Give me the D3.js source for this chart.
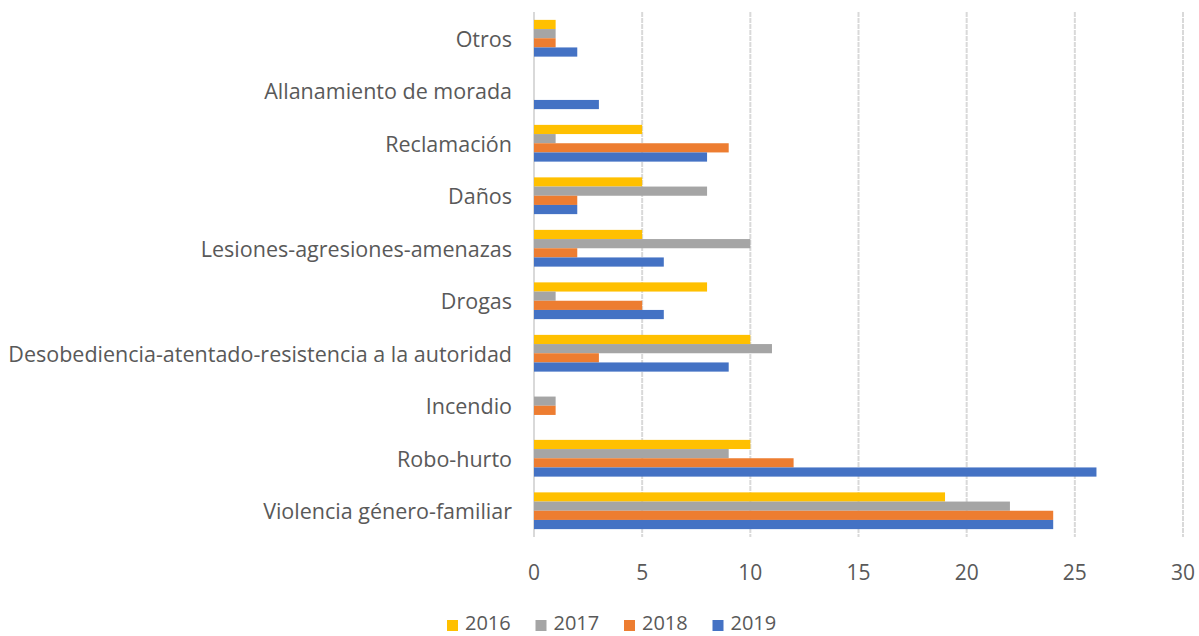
<!DOCTYPE html>
<html>
<head>
<meta charset="utf-8">
<script src="https://cdn.jsdelivr.net/npm/d3@7"></script>
<style>
  body { margin: 0; background: #fff; }
  text { font-family: "Open Sans", Lato, sans-serif; fill: #595959; }
</style>
</head>
<body>
<div id="chart"></div>
<script>
// Chart data
const categories = ["Otros", "Allanamiento de morada", "Reclamación", "Daños",
    "Lesiones-agresiones-amenazas", "Drogas",
    "Desobediencia-atentado-resistencia a la autoridad", "Incendio",
    "Robo-hurto", "Violencia género-familiar"];
const years = ["2016", "2017", "2018", "2019"];
const values2016 = [1, 0, 5, 5, 5, 8, 10, 0, 10, 19];
const values2017 = [1, 0, 1, 8, 10, 1, 11, 1, 9, 22];
const values2018 = [1, 0, 9, 2, 2, 5, 3, 1, 12, 24];
const values2019 = [2, 3, 8, 2, 6, 6, 9, 0, 26, 24];
const xTicks = [0, 5, 10, 15, 20, 25, 30];
const colors = ["#FFC000", "#A5A5A5", "#ED7D31", "#4472C4"];

const seriesValues = [values2016, values2017, values2018, values2019];

// Dimensions
const width = 1199, height = 636;
const margin = {left: 534, right: 16, top: 12, bottom: 99};

let svg = d3.select("#chart")
    .append("svg")
    .attr("width", width)
    .attr("height", height);

// Scales
let xScale = d3.scaleLinear()
    .domain([0, 30])
    .range([margin.left, width - margin.right]);

let yScale = d3.scaleBand()
    .domain(categories)
    .range([margin.top, height - margin.bottom])
    .paddingInner(0.3)
    .paddingOuter(0.15);

let ySub = d3.scaleBand()
    .domain(years)
    .range([0, yScale.bandwidth()]);

// Gridlines
svg.append("g")
    .selectAll("line")
    .data(xTicks)
    .enter()
    .append("line")
        .attr("x1", d => xScale(d))
        .attr("x2", d => xScale(d))
        .attr("y1", margin.top)
        .attr("y2", height - margin.bottom)
        .attr("stroke", "#d9d9d9")
        .attr("stroke-width", 2)
        .attr("stroke-dasharray", d => d === 0 ? null : "5,1");

// Bars
const dataReady = years.map(function(y, i) {
    return {
        name: y,
        values: categories.map(function(c, j) { return {cat: c, value: seriesValues[i][j]} })
    }
});

svg.selectAll("myGroups")
    .data(dataReady)
    .enter()
    .append("g")
        .style("fill", (d, i) => colors[i])
    .selectAll("rect")
    .data(d => d.values.map(v => ({...v, year: d.name})))
    .enter()
    .append("rect")
        .filter(d => d.value > 0)
        .attr("x", xScale(0))
        .attr("y", d => yScale(d.cat) + ySub(d.year))
        .attr("width", d => xScale(d.value) - xScale(0))
        .attr("height", ySub.bandwidth());

// Category labels
svg.append("g")
    .selectAll("text")
    .data(categories)
    .enter()
    .append("text")
        .attr("x", 512)
        .attr("y", d => yScale(d) + yScale.bandwidth() / 2)
        .attr("text-anchor", "end")
        .attr("dominant-baseline", "central")
        .style("font-size", "21.5px")
        .text(d => d);

// X tick labels
svg.append("g")
    .selectAll("text")
    .data(xTicks)
    .enter()
    .append("text")
        .attr("x", d => xScale(d))
        .attr("y", 572)
        .attr("text-anchor", "middle")
        .attr("dominant-baseline", "central")
        .style("font-size", "21px")
        .text(d => d);

// Legend
let legend = svg.append("g")
    .selectAll("g")
    .data(years)
    .enter()
    .append("g")
        .attr("transform", (d, i) => `translate(${447 + i * 88.5}, 620)`);

legend.append("rect")
    .attr("x", 0)
    .attr("y", 0)
    .attr("width", 11)
    .attr("height", 11)
    .style("fill", (d, i) => colors[i]);

legend.append("text")
    .attr("x", 18)
    .attr("y", 2)
    .attr("dominant-baseline", "central")
    .style("font-size", "20px")
    .text(d => d);
</script>
</body>
</html>
